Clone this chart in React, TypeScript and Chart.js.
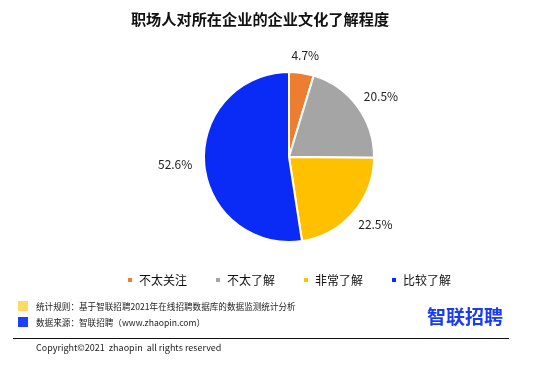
import React, { useEffect, useRef } from "react";
import { Chart, registerables } from "chart.js";
Chart.register(...registerables);

const categories = ["不太关注", "不太了解", "非常了解", "比较了解"];
const values = [4.7, 20.5, 22.5, 52.6];
const labels = ["4.7%", "20.5%", "22.5%", "52.6%"];
const colors = ["#ED7D31", "#A5A5A5", "#FFC000", "#0A2AF5"];

const FONT = "'Noto Sans CJK SC', 'Noto Sans', sans-serif";

const outsideLabels = {
  id: "outsideLabels",
  afterDatasetsDraw(chart: any) {
    const ctx = chart.ctx;
    const meta = chart.getDatasetMeta(0);
    ctx.save();
    ctx.font = "12px " + FONT;
    ctx.fillStyle = "#222";
    ctx.textAlign = "center";
    ctx.textBaseline = "middle";
    meta.data.forEach((arc: any, i: number) => {
      const mid = (arc.startAngle + arc.endAngle) / 2;
      const r = arc.outerRadius + 12;
      const t = labels[i];
      const w = ctx.measureText(t).width;
      const x = arc.x + Math.cos(mid) * r + Math.cos(mid) * (w / 2);
      const y = arc.y + Math.sin(mid) * r + Math.sin(mid) * 6;
      ctx.fillText(t, x, y);
    });
    ctx.restore();
  },
};

export default function App() {
  const ref = useRef<HTMLCanvasElement>(null);
  useEffect(() => {
    const chart = new Chart(ref.current!, {
      type: "pie",
      data: {
        labels: categories,
        datasets: [
          {
            data: values,
            backgroundColor: colors,
            borderColor: "#fff",
            borderWidth: 2,
          },
        ],
      },
      options: {
        animation: false,
        responsive: false,
        events: [],
        radius: 85,
        layout: { padding: { top: 68, left: 24, right: 0, bottom: 15 } },
        plugins: {
          legend: {
            position: "bottom",
            labels: {
              boxWidth: 6,
              boxHeight: 6,
              padding: 28,
              color: "#111",
              font: { size: 12, family: FONT },
            },
          },
          tooltip: { enabled: false },
        },
      } as any,
      plugins: [outsideLabels],
    });
    return () => chart.destroy();
  }, []);

  const small: React.CSSProperties = {
    position: "absolute",
    fontSize: 8.6,
    fontFamily: FONT,
    color: "#222",
    whiteSpace: "nowrap",
    lineHeight: "12px",
  };

  return (
    <div style={{ position: "fixed", left: 0, top: 0, width: 554, height: 376, background: "#fff" }}>
      <canvas ref={ref} width={554} height={311} style={{ position: "absolute", left: 0, top: 0 }} />
      <div
        style={{
          position: "absolute",
          left: 0,
          width: 520,
          top: 8,
          textAlign: "center",
          fontSize: 15.2,
          fontWeight: "bold",
          fontFamily: FONT,
          color: "#111",
          lineHeight: "20px",
        }}
      >
        职场人对所在企业的企业文化了解程度
      </div>
      <div style={{ position: "absolute", left: 18, top: 301, width: 10, height: 10, background: "#FFD966" }} />
      <div style={{ position: "absolute", left: 18, top: 317, width: 10, height: 10, background: "#1F3FFF" }} />
      <div style={{ ...small, left: 36, top: 300 }}>统计规则：基于智联招聘2021年在线招聘数据库的数据监测统计分析</div>
      <div style={{ ...small, left: 36, top: 316 }}>数据来源：智联招聘（www.zhaopin.com）</div>
      <div
        style={{
          position: "absolute",
          left: 427,
          top: 304,
          fontSize: 19,
          fontWeight: "bold",
          fontFamily: FONT,
          color: "#1A3CF0",
          lineHeight: "24px",
          whiteSpace: "nowrap",
        }}
      >
        智联招聘
      </div>
      <div style={{ position: "absolute", left: 13, top: 338, width: 496, height: 1, background: "#111" }} />
      <div style={{ ...small, fontSize: 9, left: 36, top: 342 }}>Copyright©2021&nbsp;&nbsp;zhaopin&nbsp;&nbsp;all rights reserved</div>
    </div>
  );
}
